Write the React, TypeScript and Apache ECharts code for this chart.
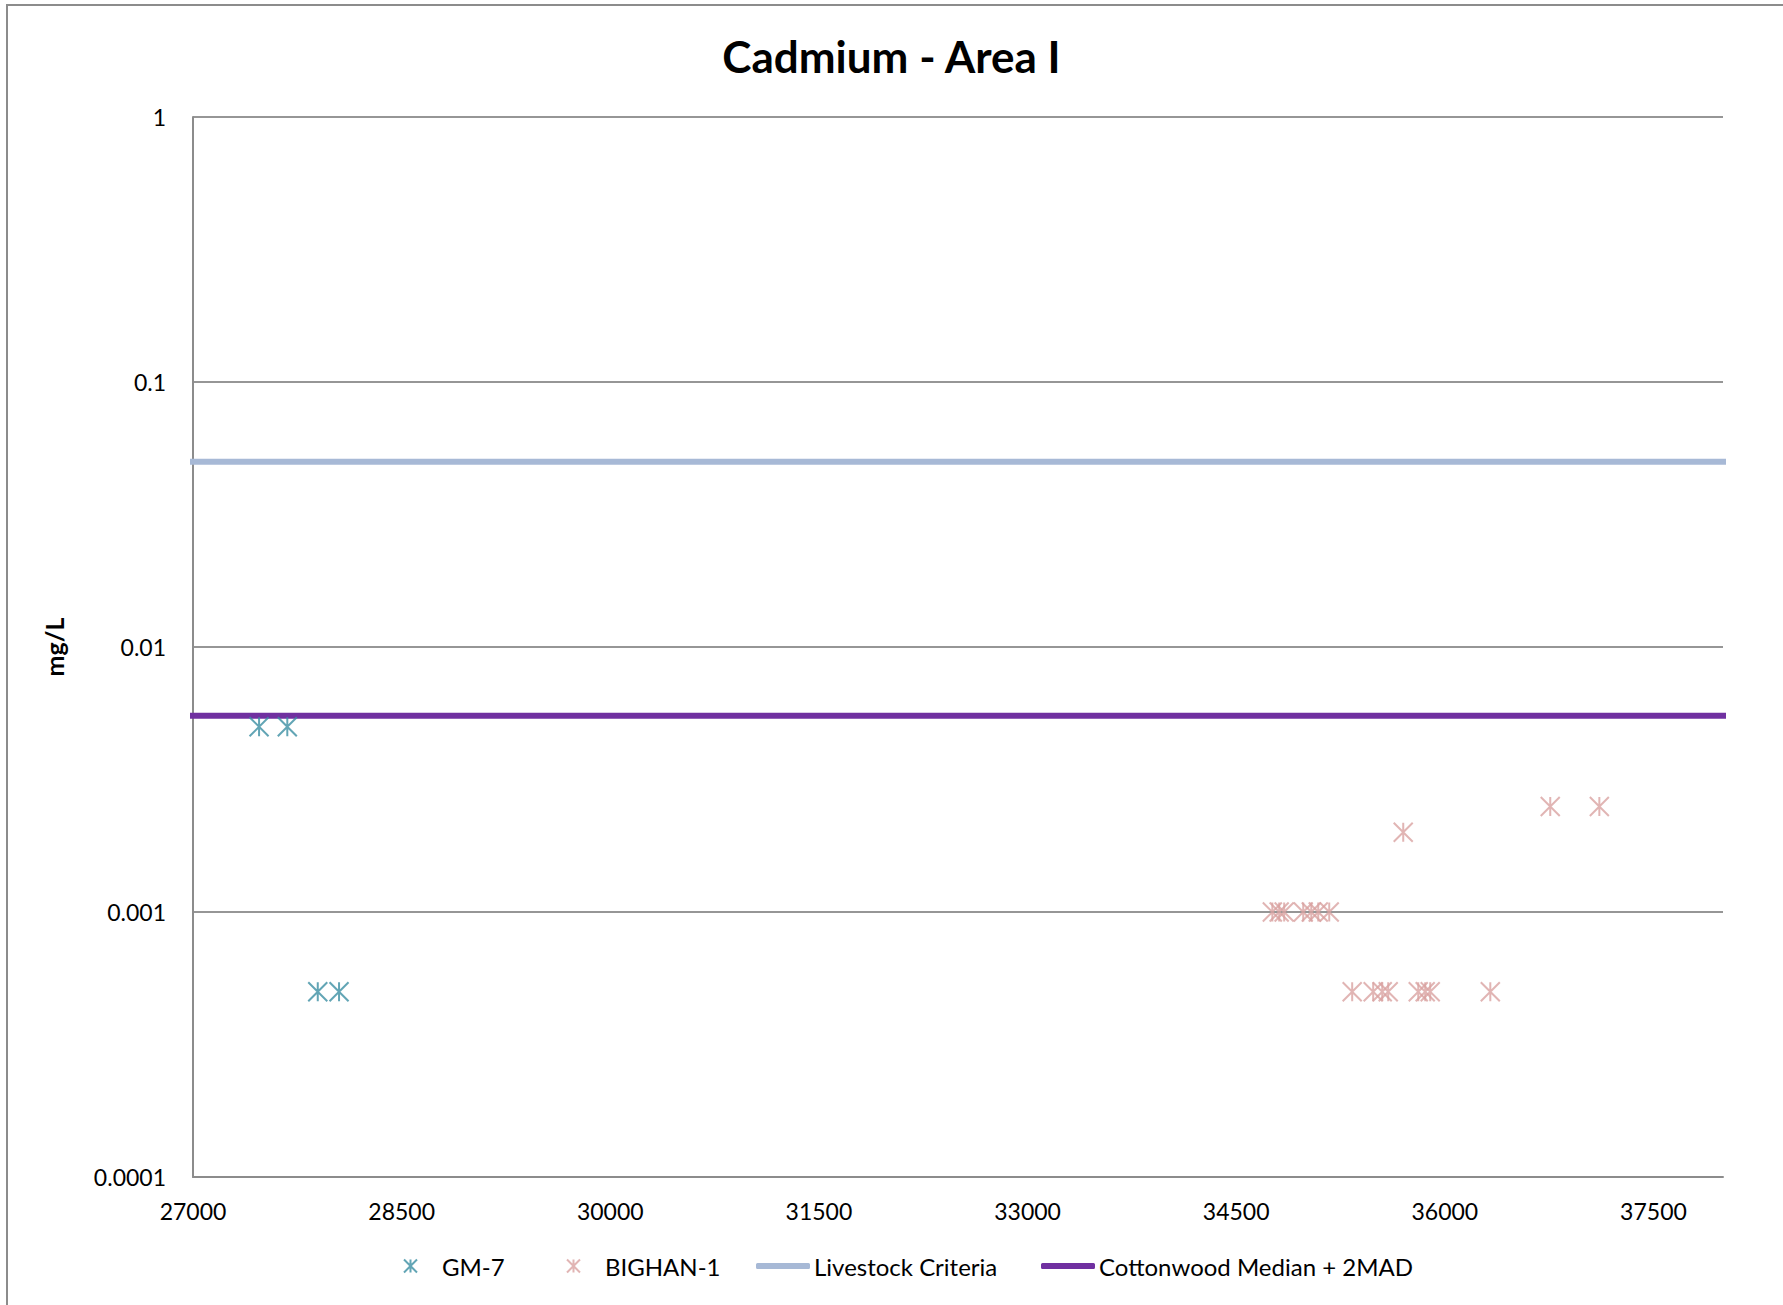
import React, { useEffect, useRef } from "react";
import * as echarts from "echarts";

// Sample dates (x) and cadmium concentrations (mg/L) per well
const gm7X = [27475, 27678, 27897, 28050];
const gm7Y = [0.005, 0.005, 0.0005, 0.0005];

const bighanX = [
  34760, 34809, 34845, 34982, 35040, 35090, 35169,
  35334, 35485, 35550, 35593, 35809, 35859, 35895, 36327,
  35701, 36758, 37111,
];
const bighanY = [
  0.001, 0.001, 0.001, 0.001, 0.001, 0.001, 0.001,
  0.0005, 0.0005, 0.0005, 0.0005, 0.0005, 0.0005, 0.0005, 0.0005,
  0.002, 0.0025, 0.0025,
];

// Reference levels drawn across the full x range
const lineX = [27000, 38000];
const livestockCriteria = 0.05;
const cottonwoodMedian2MAD = 0.0055;

const yTickLabels = ["0.0001", "0.001", "0.01", "0.1", "1"];
const xTickLabels = ["27000", "28500", "30000", "31500", "33000", "34500", "36000", "37500"];

const seriesNames = ["GM-7", "BIGHAN-1", "Livestock Criteria", "Cottonwood Median + 2MAD"];

const STAR = "path://M0,0L20,20M20,0L0,20M10,0L10,20";
const FONT = "Lato, 'Open Sans', sans-serif";

export default function App() {
  const ref = useRef<HTMLDivElement>(null);

  useEffect(() => {
    if (!ref.current) return;
    const chart = echarts.init(ref.current, null, { renderer: "svg" });

    const pairs = (xs: number[], ys: number[]) => xs.map((x, i) => [x, ys[i]]);

    const legendText = { fontFamily: FONT, fontSize: 24, color: "#000" };
    const legendTop = 1249;

    chart.setOption({
      animation: false,
      backgroundColor: "#fff",
      textStyle: { fontFamily: FONT },
      title: {
        text: "Cadmium - Area I",
        left: "center",
        top: 29,
        textStyle: { fontFamily: FONT, fontSize: 44, fontWeight: "bold", color: "#000" },
      },
      graphic: [
        {
          type: "rect",
          shape: { x: 7, y: 5, width: 1850, height: 1400 },
          style: { fill: "none", stroke: "#8c8c8c", lineWidth: 2 },
          silent: true,
          z: -1,
        },
      ],
      legend: [
        {
          data: [seriesNames[0]],
          left: 398,
          top: legendTop,
          icon: STAR,
          itemWidth: 13,
          itemHeight: 20,
          textStyle: { ...legendText, padding: [0, 0, 0, 20] },
          itemStyle: { color: "transparent", borderColor: "#3b8ea3", borderWidth: 2 },
        },
        {
          data: [seriesNames[1]],
          left: 561,
          top: legendTop,
          icon: STAR,
          itemWidth: 13,
          itemHeight: 20,
          textStyle: { ...legendText, padding: [0, 0, 0, 20] },
          itemStyle: { color: "transparent", borderColor: "#d9a3a1", borderWidth: 2 },
        },
        {
          data: [seriesNames[2]],
          left: 751,
          top: legendTop,
          icon: "roundRect",
          itemWidth: 54,
          itemHeight: 6,
          textStyle: { ...legendText, padding: [0, 0, 0, -1] },
        },
        {
          data: [seriesNames[3]],
          left: 1036,
          top: legendTop,
          icon: "roundRect",
          itemWidth: 54,
          itemHeight: 6,
          textStyle: { ...legendText, padding: [0, 0, 0, -1] },
        },
      ],
      grid: { left: 193, right: 60, top: 117, bottom: 128, containLabel: false },
      xAxis: {
        type: "value",
        min: 27000,
        max: 38000,
        interval: 1500,
        axisLine: { show: true, lineStyle: { color: "#8c8c8c", width: 2 } },
        axisTick: { show: false },
        splitLine: { show: false },
        axisLabel: {
          showMaxLabel: false,
          margin: 22,
          fontSize: 23,
          fontFamily: FONT,
          color: "#000",
          formatter: (v: number) => {
            const i = Math.round((v - 27000) / 1500);
            return xTickLabels[i] ?? "";
          },
        },
      },
      yAxis: {
        type: "log",
        logBase: 10,
        min: 0.0001,
        max: 1,
        name: "mg/L",
        nameLocation: "middle",
        nameGap: 127,
        nameRotate: 90,
        nameTextStyle: { fontFamily: FONT, fontSize: 25, fontWeight: "bold", color: "#000" },
        axisLine: { show: true, lineStyle: { color: "#8c8c8c", width: 2 } },
        axisTick: { show: false },
        splitLine: { show: true, lineStyle: { color: "#969696", width: 2 } },
        minorSplitLine: { show: false },
        axisLabel: {
          margin: 27,
          fontSize: 23,
          fontFamily: FONT,
          color: "#000",
          formatter: (v: number) => {
            const i = Math.round(Math.log10(v)) + 4;
            return yTickLabels[i] ?? "";
          },
        },
      },
      series: [
        {
          name: seriesNames[0],
          type: "scatter",
          symbol: STAR,
          symbolSize: 19,
          itemStyle: { color: "transparent", borderColor: "#3b8ea3", borderWidth: 2 },
          data: pairs(gm7X, gm7Y),
          z: 4,
        },
        {
          name: seriesNames[1],
          type: "scatter",
          symbol: STAR,
          symbolSize: 19,
          itemStyle: { color: "transparent", borderColor: "#d9a3a1", borderWidth: 2 },
          data: pairs(bighanX, bighanY),
          z: 4,
        },
        {
          name: seriesNames[2],
          type: "line",
          symbol: "none",
          clip: false,
          itemStyle: { color: "#a7b9d6" },
          lineStyle: { color: "#a7b9d6", width: 6, cap: "square" },
          data: lineX.map((x) => [x, livestockCriteria]),
          z: 3,
        },
        {
          name: seriesNames[3],
          type: "line",
          symbol: "none",
          clip: false,
          itemStyle: { color: "#7030a0" },
          lineStyle: { color: "#7030a0", width: 6, cap: "square" },
          data: lineX.map((x) => [x, cottonwoodMedian2MAD]),
          z: 3,
        },
      ],
    });

    return () => chart.dispose();
  }, []);

  return (
    <div
      ref={ref}
      style={{ position: "absolute", left: 0, top: 0, width: 1783, height: 1305 }}
    />
  );
}
